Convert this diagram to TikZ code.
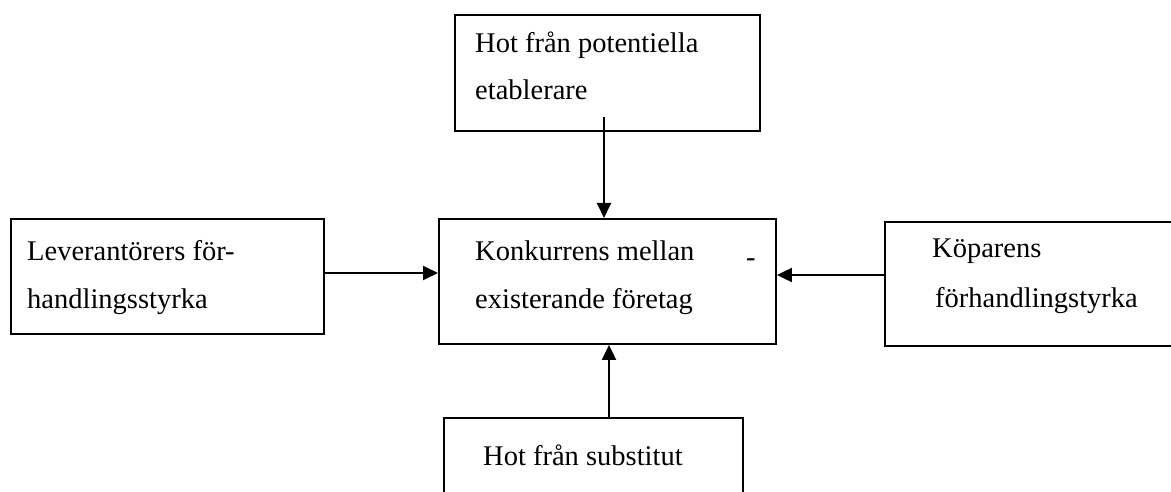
\documentclass[tikz,border=0pt]{standalone}
\usepackage{fontspec}
\setmainfont{Liberation Serif}
\usetikzlibrary{arrows.meta}
\begin{document}
\begin{tikzpicture}[x=1pt,y=-1pt,
  box/.style={draw, line width=1.9pt, anchor=north west, inner sep=0pt},
  lbl/.style={anchor=base west, inner sep=0pt, font=\fontsize{28.5pt}{34pt}\selectfont},
  arr/.style={line width=1.9pt, -{Triangle[length=15pt,width=14pt]}}]
\useasboundingbox (0,0) rectangle (1171,492);
\clip (0,0) rectangle (1171,492);
% boxes
\node[box, minimum width=305pt, minimum height=116pt] (top) at (454,14) {};
\node[box, minimum width=313pt, minimum height=115pt] (lft) at (10,218) {};
\node[box, minimum width=337pt, minimum height=125pt] (ctr) at (438,218) {};
\node[box, minimum width=300pt, minimum height=124pt] (rgt) at (884,221) {};
\node[box, minimum width=299pt, minimum height=100pt] (bot) at (443,417) {};
% texts
\node[lbl] (t1) at (475,53) {Hot från potentiella};
\node[lbl] (t2) at (475,100) {etablerare};
\node[lbl] (l1) at (27,260) {Leverantörers för-};
\node[lbl] (l2) at (27,308) {handlingsstyrka};
\node[lbl] (c1) at (475,260) {Konkurrens mellan};
\node[lbl] (c2) at (475,308) {existerande företag};
\node[lbl] (cd) at (746,266) {-};
\node[lbl] (r1) at (932,258) {Köparens};
\node[lbl] (r2) at (935,307) {förhandlingstyrka};
\node[lbl] (b1) at (483,465) {Hot från substitut};
% connectors
\coordinate (ta) at (604,117);
\coordinate (bx) at (609,0);
\coordinate (ly) at (0,273);
\coordinate (ry) at (0,275);
\draw[arr] (ta) -- (ctr.north -| ta);
\draw[arr] (bot.north -| bx) -- (ctr.south -| bx);
\draw[arr] (lft.east |- ly) -- (ctr.west |- ly);
\draw[arr] (rgt.west |- ry) -- (ctr.east |- ry);
\end{tikzpicture}
\end{document}
